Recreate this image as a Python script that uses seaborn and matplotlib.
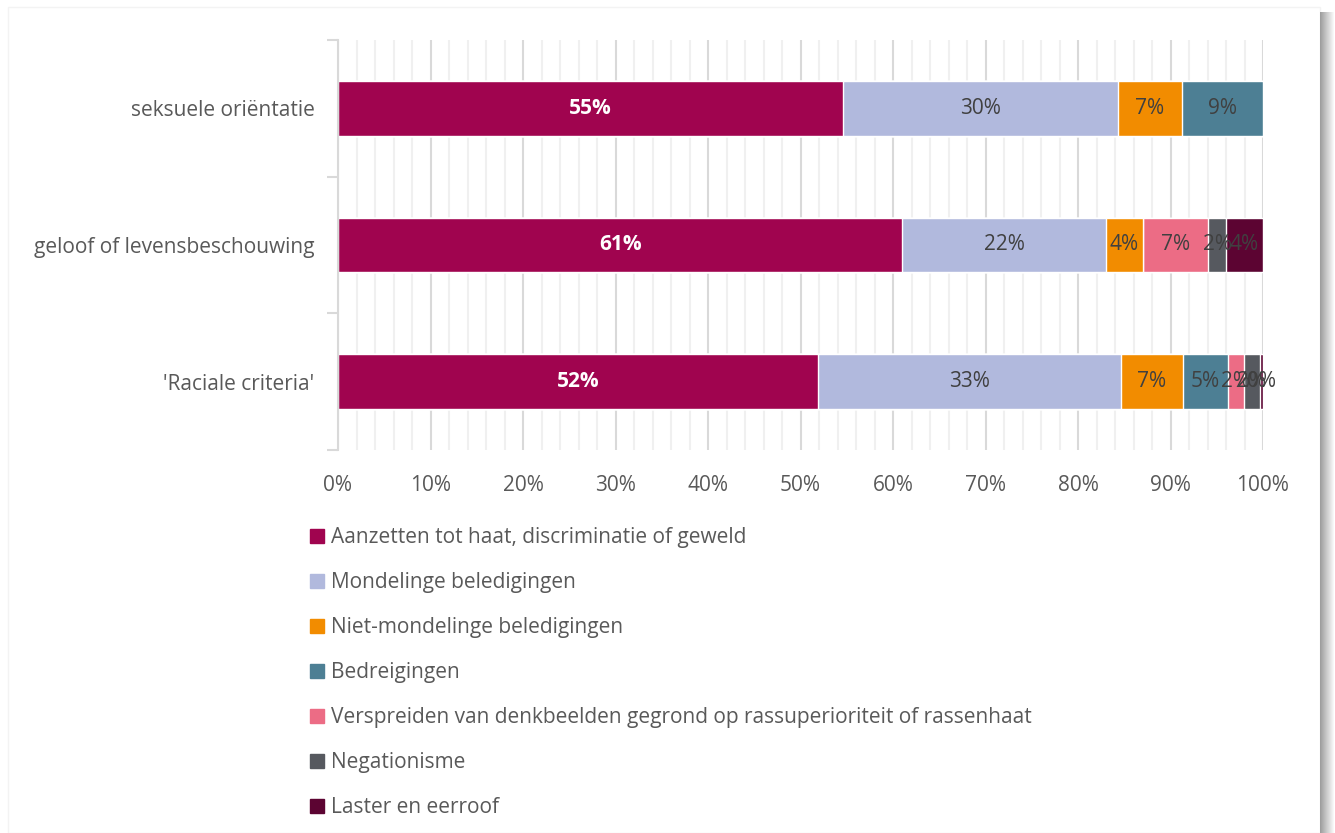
"""
Stacked horizontal bar chart: type of hate offence per protected criterion.

Output:
    out.png
"""

import numpy as np
import pandas as pd
import seaborn as sns
import matplotlib.pyplot as plt
from matplotlib.patches import Rectangle
from matplotlib.ticker import MultipleLocator, PercentFormatter


# ---------------------------------------------------------------------
# Data (shares in %)
# ---------------------------------------------------------------------

CATEGORIES = ["seksuele oriëntatie", "geloof of levensbeschouwing", "'Raciale criteria'"]

SERIES = [
    "Aanzetten tot haat, discriminatie of geweld",
    "Mondelinge beledigingen",
    "Niet-mondelinge beledigingen",
    "Bedreigingen",
    "Verspreiden van denkbeelden gegrond op rassuperioriteit of rassenhaat",
    "Negationisme",
    "Laster en eerroof",
]

AANZETTEN = [54.6, 61.0, 51.9]
MONDELING = [29.7, 22.0, 32.7]
NIET_MONDELING = [6.9, 4.0, 6.8]
BEDREIGINGEN = [8.8, 0.0, 4.8]
VERSPREIDEN = [0.0, 7.1, 1.7]
NEGATIONISME = [0.0, 1.9, 1.8]
LASTER = [0.0, 4.0, 0.3]

COLORS = ["#A0044F", "#B1B9DD", "#F28C00", "#4D7F94", "#EC6C85", "#56595F", "#5C0432"]

TEXT_GREY = "#595959"
LABEL_GREY = "#404040"
FONT_SIZE = 15


def build_frame():
    values = [AANZETTEN, MONDELING, NIET_MONDELING, BEDREIGINGEN,
              VERSPREIDEN, NEGATIONISME, LASTER]
    df = pd.DataFrame(dict(zip(SERIES, values)), index=CATEGORIES)
    return df


def main():
    sns.set_theme(style="white")
    plt.rcParams["font.family"] = ["Open Sans", "DejaVu Sans"]

    df = build_frame()
    cum = df.cumsum(axis=1)

    fig = plt.figure(figsize=(13.35, 8.33), dpi=100)
    ax = fig.add_axes([338 / 1335, 1 - 450 / 833, 925 / 1335, 410 / 833])

    # stacked bars: draw cumulative totals from back to front
    for i in range(len(SERIES) - 1, -1, -1):
        sns.barplot(
            x=cum.iloc[:, i].values,
            y=CATEGORIES,
            orient="h",
            color=COLORS[i],
            saturation=1,
            width=0.4,
            ax=ax,
        )

    # segment labels (empty segments carry no label)
    for r, cat in enumerate(CATEGORIES):
        left = 0.0
        for i, name in enumerate(SERIES):
            v = df.loc[cat, name]
            if v == 0:
                continue
            is_first = i == 0
            ax.text(
                left + v / 2, r, f"{v:.0f}%",
                ha="center", va="center",
                fontsize=FONT_SIZE,
                fontweight="bold" if is_first else "normal",
                color="white" if is_first else LABEL_GREY,
                zorder=5,
            )
            left += v

    ax.set_xlim(0, 100)
    ax.set_ylim(2.5, -0.5)
    ax.set_xlabel("")
    ax.set_ylabel("")

    ax.xaxis.set_major_locator(MultipleLocator(10))
    ax.xaxis.set_minor_locator(MultipleLocator(2))
    ax.xaxis.set_major_formatter(PercentFormatter(decimals=0))
    ax.grid(axis="x", which="major", color="#d9d9d9", lw=1.5, zorder=0)
    ax.grid(axis="x", which="minor", color="#f0f0f0", lw=1.5, zorder=0)
    ax.set_axisbelow(True)

    ax.set_yticks([-0.5, 0.5, 1.5, 2.5], minor=True)
    ax.tick_params(axis="y", which="major", length=0, pad=17,
                   labelsize=FONT_SIZE, labelcolor=TEXT_GREY)
    ax.tick_params(axis="y", which="minor", length=8, width=1.5,
                   color="#d9d9d9", direction="out", left=True)
    ax.tick_params(axis="x", which="both", length=0, pad=18,
                   labelsize=FONT_SIZE, labelcolor=TEXT_GREY)

    for side in ("top", "right", "bottom"):
        ax.spines[side].set_visible(False)
    ax.spines["left"].set_color("#d9d9d9")
    ax.spines["left"].set_linewidth(1.5)

    # legend below the plot, one entry per line
    handles = [
        plt.Line2D([], [], marker="s", ls="", markersize=10.5,
                   markerfacecolor=c, markeredgecolor=c)
        for c in COLORS
    ]
    fig.legend(
        handles, SERIES,
        loc="upper left",
        bbox_to_anchor=(301 / 1335, 1 - 519 / 833),
        frameon=False,
        fontsize=FONT_SIZE,
        labelcolor=TEXT_GREY,
        labelspacing=1.15,
        handlelength=0.75,
        handletextpad=0.3,
        borderaxespad=0,
    )

    # card frame with a soft shadow on the right
    fig.patches.append(Rectangle((8 / 1335, 0), 1312 / 1335, 1 - 7 / 833,
                                 transform=fig.transFigure, fill=False,
                                 ec="#f3f3f3", lw=1, zorder=0))
    shades = np.linspace(0.62, 1.0, 15)
    for k, g in enumerate(shades):
        fig.patches.append(Rectangle(((1320 + k) / 1335, 0), 1 / 1335, 1 - 12 / 833,
                                     transform=fig.transFigure,
                                     color=(g, g, g), lw=0, zorder=0))

    fig.savefig("out.png", dpi=100, facecolor="white")
    plt.close(fig)


if __name__ == "__main__":
    main()
